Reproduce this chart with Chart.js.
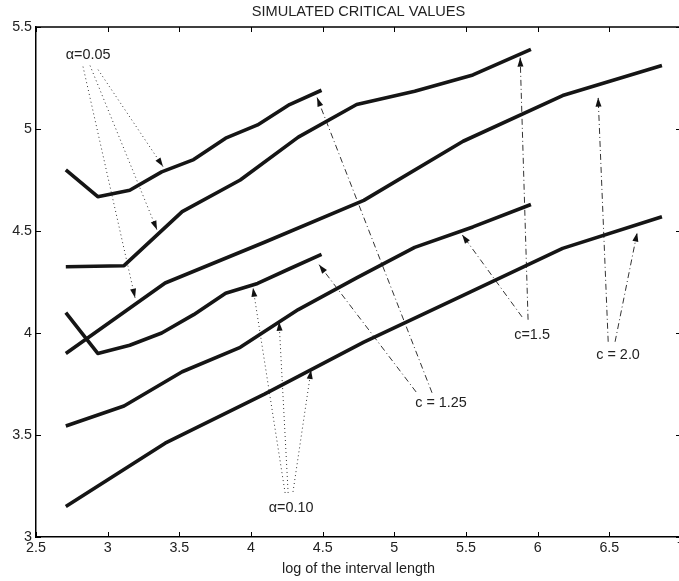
<!DOCTYPE html>
<html>
<head>
<meta charset="utf-8">
<script src="https://cdn.jsdelivr.net/npm/chart.js@4.4.1/dist/chart.umd.min.js"></script>
<style>
  html, body { margin: 0; padding: 0; background: #fff; overflow: hidden; }
  /* the plot box runs 2px past the window edge, as in the original figure */
  #criticalChart { display: block; }
</style>
</head>
<body>
<canvas id="criticalChart" width="681" height="581"></canvas>
<script>
// x positions (log of interval length) for each growth factor c
const xC125 = [2.708, 2.931, 3.154, 3.377, 3.600, 3.823, 4.046, 4.269, 4.492];
const xC150 = [2.708, 3.114, 3.520, 3.925, 4.330, 4.737, 5.142, 5.548, 5.953];
const xC200 = [2.708, 3.401, 4.094, 4.787, 5.480, 6.174, 6.867];

// simulated critical values
const a05c125 = [4.80, 4.668, 4.70, 4.79, 4.85, 4.955, 5.02, 5.12, 5.19];
const a05c150 = [4.325, 4.33, 4.595, 4.75, 4.96, 5.12, 5.185, 5.265, 5.39];
const a05c200 = [3.90, 4.245, 4.445, 4.65, 4.94, 5.164, 5.311];
const a10c125 = [4.10, 3.90, 3.94, 4.00, 4.09, 4.195, 4.243, 4.315, 4.385];
const a10c150 = [3.544, 3.642, 3.81, 3.93, 4.115, 4.27, 4.42, 4.52, 4.63];
const a10c200 = [3.15, 3.46, 3.70, 3.955, 4.185, 4.415, 4.57];

// axis ticks
const xTicks = [2.5, 3, 3.5, 4, 4.5, 5, 5.5, 6, 6.5, 7];
const yTicks = [3, 3.5, 4, 4.5, 5, 5.5];

// annotation texts (data coordinates)
const noteText = ['\u03B1=0.05', '\u03B1=0.10', 'c = 1.25', 'c=1.5', 'c = 2.0'];
const noteX = [2.863, 4.280, 5.326, 5.961, 6.561];
const noteY = [5.365, 3.142, 3.657, 3.991, 3.893];

// annotation arrows: start -> tip, dotted for alpha, dash-dot for c
const arrowStartX = [2.828, 2.877, 2.933, 4.238, 4.259, 4.293, 5.152, 5.263, 5.891, 5.933, 6.492, 6.540];
const arrowStartY = [5.306, 5.311, 5.291, 3.216, 3.216, 3.221, 3.711, 3.707, 4.079, 4.065, 3.957, 3.957];
const arrowTipX = [3.191, 3.344, 3.386, 4.014, 4.196, 4.419, 4.475, 4.461, 5.473, 5.878, 6.422, 6.694];
const arrowTipY = [4.173, 4.506, 4.816, 4.222, 4.055, 3.819, 4.335, 5.154, 4.482, 5.350, 5.154, 4.492];
const arrowStyle = ['dot', 'dot', 'dot', 'dot', 'dot', 'dot', 'dashdot', 'dashdot', 'dashdot', 'dashdot', 'dashdot', 'dashdot'];

Chart.defaults.font.family = '"Liberation Sans", Arial, Helvetica, sans-serif';
Chart.defaults.color = '#222';

function toPoints(xs, ys) {
  return xs.map((x, i) => ({ x: x, y: ys[i] }));
}

const curves = [
  [xC125, a05c125], [xC150, a05c150], [xC200, a05c200],
  [xC125, a10c125], [xC150, a10c150], [xC200, a10c200],
];

const datasets = curves.map(([xs, ys]) => ({
  data: toPoints(xs, ys),
  borderColor: '#151515',
  borderWidth: 3.6,
  pointRadius: 0,
  tension: 0,
  borderCapStyle: 'butt',
  borderJoinStyle: 'round',
}));

arrowStartX.forEach((sx, i) => {
  datasets.push({
    data: [{ x: sx, y: arrowStartY[i] }, { x: arrowTipX[i], y: arrowTipY[i] }],
    borderColor: '#333',
    borderWidth: 1,
    borderDash: arrowStyle[i] === 'dot' ? [1, 3] : [6, 3, 1, 3],
    pointRadius: 0,
    arrow: true,
  });
});

// box frame with inward ticks, MATLAB style
const frameTicks = {
  id: 'frameTicks',
  afterDraw(chart) {
    const { ctx, chartArea: a, scales: { x, y } } = chart;
    ctx.save();
    ctx.strokeStyle = '#000';
    ctx.lineWidth = 1.5;
    ctx.beginPath();
    ctx.moveTo(a.left, a.top);
    ctx.lineTo(a.right, a.top);
    ctx.lineTo(a.right, a.bottom);
    ctx.stroke();
    ctx.lineWidth = 1;
    ctx.beginPath();
    x.ticks.forEach(t => {
      const px = Math.round(x.getPixelForValue(t.value)) + 0.5;
      ctx.moveTo(px, a.bottom); ctx.lineTo(px, a.bottom - 5);
      ctx.moveTo(px, a.top); ctx.lineTo(px, a.top + 5);
    });
    y.ticks.forEach(t => {
      const py = Math.round(y.getPixelForValue(t.value)) + 0.5;
      ctx.moveTo(a.left, py); ctx.lineTo(a.left + 5, py);
      ctx.moveTo(a.right, py); ctx.lineTo(a.right - 5, py);
    });
    ctx.stroke();
    ctx.restore();
  }
};

// arrowheads on the annotation lines and their labels
const notes = {
  id: 'notes',
  afterDatasetsDraw(chart) {
    const { ctx, scales: { x, y } } = chart;
    ctx.save();
    ctx.fillStyle = '#111';
    chart.data.datasets.forEach((ds, i) => {
      if (!ds.arrow) return;
      const pts = chart.getDatasetMeta(i).data;
      const p0 = pts[0], p1 = pts[1];
      const ang = Math.atan2(p1.y - p0.y, p1.x - p0.x);
      const len = 9, half = 3;
      ctx.beginPath();
      ctx.moveTo(p1.x, p1.y);
      ctx.lineTo(p1.x - len * Math.cos(ang) + half * Math.sin(ang), p1.y - len * Math.sin(ang) - half * Math.cos(ang));
      ctx.lineTo(p1.x - len * Math.cos(ang) - half * Math.sin(ang), p1.y - len * Math.sin(ang) + half * Math.cos(ang));
      ctx.closePath();
      ctx.fill();
    });
    ctx.fillStyle = '#222';
    ctx.font = '14.4px "Liberation Sans", Arial, sans-serif';
    ctx.textAlign = 'center';
    ctx.textBaseline = 'middle';
    noteText.forEach((t, i) => {
      ctx.fillText(t, x.getPixelForValue(noteX[i]), y.getPixelForValue(noteY[i]));
    });
    ctx.restore();
  }
};

new Chart(document.getElementById('criticalChart'), {
  type: 'line',
  data: { datasets: datasets },
  options: {
    responsive: false,
    animation: false,
    layout: { padding: 0 },
    plugins: {
      legend: { display: false },
      tooltip: { enabled: false },
      title: {
        display: true,
        fullSize: false, // centre over the axes, not the whole canvas
        text: 'SIMULATED CRITICAL VALUES',
        color: '#222',
        font: { size: 14.6, weight: 'normal' },
        padding: { top: 3, bottom: 6.5 },
      },
    },
    scales: {
      x: {
        type: 'linear',
        min: 2.5,
        max: 7,
        afterBuildTicks: scale => { scale.ticks = xTicks.map(v => ({ value: v })); },
        afterFit: scale => {
          scale.height = 44;
          scale.paddingLeft = 0;
          scale.paddingRight = 0;
        },
        grid: { display: false, drawTicks: false },
        border: { display: true, color: '#000', width: 1.5 },
        ticks: { color: '#222', font: { size: 14.3 }, padding: 2, maxRotation: 0, autoSkip: false, callback: v => String(v) },
        title: { display: true, text: 'log of the interval length', color: '#222', font: { size: 14.4 }, padding: { top: 0, bottom: 3 } },
      },
      y: {
        type: 'linear',
        min: 3,
        max: 5.5,
        afterBuildTicks: scale => { scale.ticks = yTicks.map(v => ({ value: v })); },
        afterFit: scale => { scale.width = 36; },
        grid: { display: false, drawTicks: false },
        border: { display: true, color: '#000', width: 1.5 },
        ticks: { color: '#222', font: { size: 14.3 }, padding: 4, autoSkip: false, callback: v => String(v) },
      },
    },
  },
  plugins: [frameTicks, notes],
});
</script>
</body>
</html>
